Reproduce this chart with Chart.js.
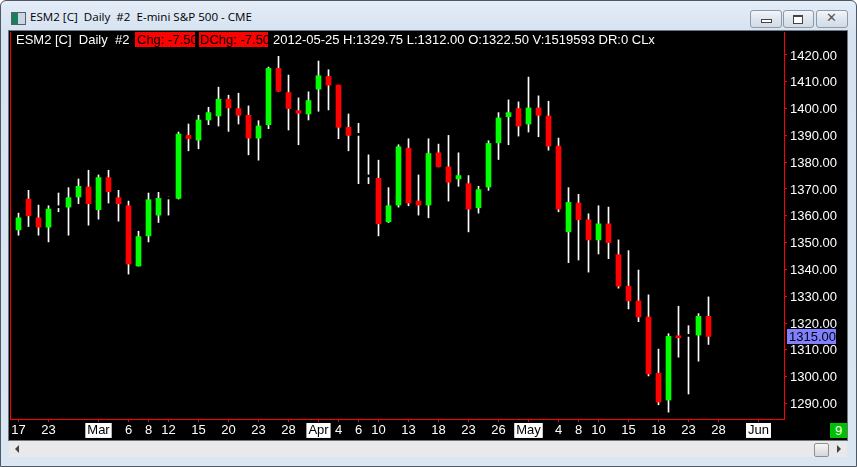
<!DOCTYPE html>
<html>
<head>
<meta charset="utf-8">
<script src="https://cdn.jsdelivr.net/npm/chart.js@4.4.0/dist/chart.umd.min.js"></script>
<style>
  html, body { margin: 0; padding: 0; width: 857px; height: 467px; overflow: hidden; background: #fff; }
  .abs { position: absolute; }
  #win { left: 0; top: 0; width: 855px; height: 465px; border: 1px solid #4e5864; border-radius: 6px 6px 0 0;
         background: linear-gradient(#e4edf8, #d7e3f1 30px, #dbe6f3); }
  #title { left: 30px; top: 9px; font: 11.6px "Open Sans", "Liberation Sans", sans-serif; color: #000; white-space: pre; }
  #icon { left: 11px; top: 12px; width: 13px; height: 11px; border: 1px solid #55606c; background: linear-gradient(90deg, #1b7f5a 0 45%, #c9d6e4 45%); }
  .btn { top: 10px; height: 16px; border: 1px solid #8c99a8; border-radius: 3px; background: linear-gradient(#f3f6fa, #dfe6ee 50%, #d2dbe6); }
  #panel { left: 8px; top: 30px; width: 838px; height: 409px; border: 1px solid #6c7784; background: #000; }
  #chart { left: 9px; top: 31px; background: #000; }
  .hdr { top: 32px; height: 15px; line-height: 15px; font: 13px "Liberation Sans", Arial, sans-serif; white-space: pre; overflow: hidden; }
  #scroll { left: 9px; top: 441px; width: 838px; height: 16px; background: #e9e9e9; }
  #thumb { left: 814px; top: 443px; width: 13px; height: 12px; border: 1px solid #8f8f8f; border-radius: 2px; background: linear-gradient(#f6f6f6, #d6d6d6); }
  #nine { left: 830px; top: 423px; width: 17px; height: 15px; line-height: 15px; background: #00c000; color: #fff; text-align: center; font: 13px "Liberation Sans", Arial, sans-serif; }
</style>
</head>
<body>
<div id="win" class="abs"></div>
<div id="icon" class="abs"></div>
<div id="title" class="abs">ESM2 [C]  Daily  #2  E-mini S&amp;P 500 - CME</div>
<div class="abs btn" style="left:750px;width:30px;"><div class="abs" style="left:10px;top:8px;width:9px;height:2px;border:1px solid #444;background:#fff;"></div></div>
<div class="abs btn" style="left:783px;width:29px;"><div class="abs" style="left:9px;top:4px;width:8px;height:6px;border:1px solid #444;border-top-width:2px;background:#fff;"></div></div>
<div class="abs btn" style="left:816px;width:30px;"><div class="abs" style="left:9px;top:-1px;font:bold 13px 'DejaVu Sans',sans-serif;color:#555;">✕</div></div>
<div id="panel" class="abs"></div>
<canvas id="chart" class="abs" width="838" height="409"></canvas>
<div class="abs hdr" id="h1" style="left:16px;color:#fff;"></div>
<div class="abs hdr" id="h2" style="left:135px;width:58px;padding-left:2px;background:#ff0000;color:#000;"></div>
<div class="abs hdr" id="h3" style="left:199px;width:68px;padding-left:1px;background:#ff0000;color:#000;"></div>
<div class="abs hdr" id="h4" style="left:273px;color:#fff;"></div>
<div id="nine" class="abs">9</div>
<div id="scroll" class="abs"></div>
<div class="abs" style="left:15px;top:445px;width:0;height:0;border-top:4px solid transparent;border-bottom:4px solid transparent;border-right:4px solid #444;"></div>
<div id="thumb" class="abs"></div>
<div class="abs" style="left:837px;top:445px;width:0;height:0;border-top:4px solid transparent;border-bottom:4px solid transparent;border-left:4px solid #444;"></div>

<script>
// trading days shown on the axis (incl. empty future slots)
const dates = ['2012-02-17','2012-02-21','2012-02-22','2012-02-23','2012-02-24','2012-02-27','2012-02-28','2012-02-29',
  '2012-03-01','2012-03-02','2012-03-05','2012-03-06','2012-03-07','2012-03-08','2012-03-09','2012-03-12','2012-03-13',
  '2012-03-14','2012-03-15','2012-03-16','2012-03-19','2012-03-20','2012-03-21','2012-03-22','2012-03-23','2012-03-26',
  '2012-03-27','2012-03-28','2012-03-29','2012-03-30','2012-04-02','2012-04-03','2012-04-04','2012-04-05','2012-04-06',
  '2012-04-09','2012-04-10','2012-04-11','2012-04-12','2012-04-13','2012-04-16','2012-04-17','2012-04-18','2012-04-19',
  '2012-04-20','2012-04-23','2012-04-24','2012-04-25','2012-04-26','2012-04-27','2012-04-30','2012-05-01','2012-05-02',
  '2012-05-03','2012-05-04','2012-05-07','2012-05-08','2012-05-09','2012-05-10','2012-05-11','2012-05-14','2012-05-15',
  '2012-05-16','2012-05-17','2012-05-18','2012-05-21','2012-05-22','2012-05-23','2012-05-24','2012-05-25',
  '2012-05-28','2012-05-29','2012-05-30','2012-05-31','2012-06-01','2012-06-04','2012-06-05'];

const open = [1354.75,1366.25,1359.25,1355.75,1363,1363.25,1367,1370.75,1362.25,1374.25,1366.75,1363.75,1341.25,1352.5,1360.25,
  1366.25,1366.5,1390,1388.25,1395.75,1397.25,1403.5,1400,1397.5,1389,1394,1415,1406,1399.25,1398,1407.25,1412,1408.75,1393,
  1390,1374.5,1374,1357.75,1364,1385.25,1365.5,1364,1383.5,1378.25,1373.75,1372,1363,1370.75,1387.25,1397,1400,1394.25,
  1400.25,1397.25,1386,1354,1364.75,1358.5,1351,1357,1345.5,1333.75,1328.25,1322.25,1301.25,1291.25,1314.75,1315,1315.5,1322.5];
const high = [1361,1369.5,1364,1363.75,1368.5,1370.5,1373.75,1377,1375.25,1377,1369.5,1365.5,1354.25,1368.5,1368.75,
  1367,1391.25,1394.25,1397.5,1400.5,1408,1405,1405.75,1401,1395.5,1415.5,1419.5,1412.5,1404,1406.25,1417.75,1414.5,1408.75,1398,
  1394.5,1382.75,1380.75,1370.5,1386.5,1388.75,1375.25,1388.75,1386.75,1390,1383.5,1375,1371,1388,1398.5,1403.25,1402.5,1411.75,
  1404.75,1402.75,1389,1370.5,1368,1360.75,1363.75,1363.25,1351,1347,1339.75,1330.5,1310.25,1316,1326.25,1319,1323.5,1329.75];
const low = [1352.75,1356,1352.75,1350.25,1361.5,1352.75,1364.5,1356.5,1358.75,1364.75,1358,1338.25,1341.25,1350.25,1357.5,
  1360.25,1366.25,1384.25,1385,1394,1393.5,1391.5,1394.25,1382.75,1380.75,1392.5,1406.5,1392,1386.5,1395.75,1399,1399.5,1388.75,1384.25,
  1372,1372,1352.5,1357.5,1363.25,1363.75,1360.25,1359.25,1378.25,1365.5,1371,1354,1361,1369.5,1381,1386.5,1389.75,1391.25,
  1389.5,1384.5,1361.5,1342.5,1343.5,1339,1345.75,1344,1333,1325.25,1320.5,1300.25,1289.5,1286.75,1307.25,1293.5,1305.75,1312];
const close = [1359.25,1360,1355.75,1362.5,1363,1366.75,1371,1364.5,1374.25,1369,1364.5,1342,1352.25,1366,1366.5,
  1366.25,1390.5,1388.75,1395.75,1398.5,1403.5,1400.25,1397.5,1389,1393.5,1415,1406.5,1400,1398.25,1403,1412.25,1408.75,1393,1390,
  1390,1374.5,1357,1363.75,1385.75,1364.75,1364,1383.25,1378.25,1372.5,1375,1362.5,1369.75,1387,1396.5,1398.5,1393.5,1400.25,
  1397.5,1386,1362.5,1365,1358.5,1351,1357,1350,1333.75,1328.25,1322.25,1301,1290.5,1315,1314.5,1315,1322.5,1315];
const volume = 1519593;

// x axis labels
const tickDates = ['2012-02-17','2012-02-23','2012-03-01','2012-03-06','2012-03-08','2012-03-12','2012-03-15','2012-03-20',
  '2012-03-23','2012-03-28','2012-04-02','2012-04-04','2012-04-06','2012-04-10','2012-04-13','2012-04-18','2012-04-23',
  '2012-04-26','2012-05-01','2012-05-04','2012-05-08','2012-05-10','2012-05-15','2012-05-18','2012-05-23','2012-05-28','2012-06-01'];
const tickText = ['17','23','Mar','6','8','12','15','20','23','28','Apr','4','6','10','13','18','23','26','May','4','8','10',
  '15','18','23','28','Jun'];
const yTicks = [1290, 1420];

const tickIdx = tickDates.map(d => dates.indexOf(d));
const labelAt = v => tickText[tickIdx.indexOf(Math.round(v))] || '';
const isMonth = v => /^[A-Z]/.test(labelAt(v));
const last = close.length - 1;

// header line
const f2 = v => v.toFixed(2);
const chg = close[last] - close[last - 1];
document.getElementById('h1').textContent = 'ESM2 [C]  Daily  #2';
document.getElementById('h2').textContent = 'Chg: ' + f2(chg);
document.getElementById('h3').textContent = 'DChg: ' + f2(chg);
document.getElementById('h4').textContent = dates[last] + ' H:' + f2(high[last]) + ' L:' + f2(low[last]) +
  ' O:' + f2(open[last]) + ' V:' + volume + ' DR:0 CLx';

const font = { family: '"Liberation Sans", Arial, sans-serif', size: 13, lineHeight: 1.15 };
const bodyColor = close.map((c, i) => c > open[i] ? '#00ff00' : (c < open[i] ? '#ff0000' : '#000000'));
const noPad = s => { s.paddingTop = 0; s.paddingBottom = 0; s.paddingLeft = 0; s.paddingRight = 0; };

const frame = {
  id: 'frame',
  afterDraw(chart) {
    const { ctx, chartArea: a } = chart;
    ctx.save();
    ctx.fillStyle = '#ff0000';
    ctx.fillRect(a.left, a.top, 1, a.bottom - a.top);
    ctx.fillRect(a.right, a.top, 1, a.bottom - a.top + 1);
    ctx.fillRect(a.left, a.bottom, a.right - a.left, 1);
    // last price tag
    const y = Math.round(chart.scales.y.getPixelForValue(close[last]));
    ctx.fillStyle = '#8080ff';
    ctx.fillRect(a.right + 3, y - 7, 49, 15);
    ctx.fillStyle = '#000';
    ctx.font = '13px "Liberation Sans", Arial, sans-serif';
    ctx.textBaseline = 'middle';
    ctx.fillText(f2(close[last]), a.right + 5, y + 1);
    ctx.restore();
  }
};

new Chart(document.getElementById('chart').getContext('2d'), {
  type: 'bar',
  data: {
    datasets: [
      {
        label: 'body',
        order: 0,
        data: open.map((o, i) => ({ x: i, y: [o, close[i]] })),
        backgroundColor: bodyColor,
        barThickness: 5,
        minBarLength: 2,
        borderWidth: 0,
        grouped: false
      },
      {
        label: 'wick',
        order: 1,
        data: low.map((l, i) => ({ x: i, y: [l, high[i]] })),
        backgroundColor: '#ffffff',
        barThickness: 1,
        borderWidth: 0,
        grouped: false
      }
    ]
  },
  options: {
    responsive: false,
    animation: false,
    devicePixelRatio: 1,
    layout: { padding: { left: 1, top: 1, right: 0, bottom: 0 } },
    plugins: { legend: { display: false }, tooltip: { enabled: false } },
    scales: {
      x: {
        type: 'linear',
        offset: false,
        min: -0.85,
        max: 76.55,
        afterFit: s => { s.height = 21; noPad(s); },
        afterBuildTicks: s => { s.ticks = tickIdx.map(v => ({ value: v })); },
        grid: { offset: false, drawOnChartArea: false, drawTicks: true, tickLength: 3, color: '#ff0000' },
        border: { display: false },
        ticks: {
          autoSkip: false, maxRotation: 0, padding: 1, font,
          color: c => isMonth(c.tick.value) ? '#000' : '#fff',
          showLabelBackdrop: c => isMonth(c.tick.value),
          backdropColor: '#ffffff',
          backdropPadding: { x: 2, y: 0 },
          callback: v => labelAt(v)
        }
      },
      y: {
        position: 'right',
        min: 1284.18,
        max: 1428.58,
        afterFit: s => { s.width = 63; noPad(s); },
        grid: { drawOnChartArea: false, drawTicks: true, tickLength: 3, color: '#ff0000' },
        border: { display: false },
        ticks: {
          stepSize: 10, includeBounds: false, padding: 3, labelOffset: 1, color: '#fff', font,
          callback: v => (v >= yTicks[0] && v <= yTicks[1]) ? f2(v) : ''
        }
      }
    }
  },
  plugins: [frame]
});
</script>
</body>
</html>
